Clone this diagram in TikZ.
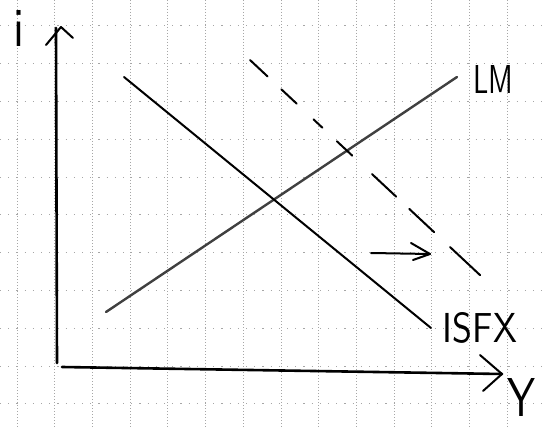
\documentclass[tikz,border=0pt]{standalone}
\usepackage{graphicx}
\begin{document}
\begin{tikzpicture}[x=1pt,y=-1pt,
  vgrid/.style={gray!70,line width=0.7pt,dash pattern=on 1.2pt off 1.8pt},
  hgrid/.style={gray!70,line width=0.7pt,dash pattern=on 1.2pt off 7pt},
  axis/.style={black,line width=2.6pt,line cap=round,line join=round},
  curve/.style={black,line width=2pt,line cap=round},
  pencil/.style={black!75,line width=2.4pt,line cap=round},
  hand/.style={inner sep=0pt,font=\sffamily},
  tip/.style={black,line width=2pt,line cap=round,line join=round}]
\useasboundingbox (0,0) rectangle (544,428);
\fill[white] (0,0) rectangle (544,428);
% grid
\foreach \k in {0,...,13} \draw[vgrid] ({17+37.7*\k},0) -- ({17+37.7*\k},428);
\foreach \k in {0,...,10} \draw[hgrid] (0,{25.7+37.8*\k}) -- (544,{25.7+37.8*\k});
% axes
\coordinate (ytop) at (56,28);
\coordinate (ybot) at (57,363);
\coordinate (xleft) at (62,367);
\coordinate (xright) at (502,374);
\draw[axis] (ybot) -- (ytop);
\draw[tip] (46,45) -- (61,27) -- (73,38);
\draw[axis] (xleft) -- (xright);
\draw[tip] (480,355) -- (502,374) -- (483,391);
% LM
\coordinate (lmA) at (106,312);
\coordinate (lmB) at (457,77);
\draw[pencil] (lmA) -- (lmB);
% IS
\coordinate (isA) at (124,77);
\coordinate (isB) at (431,328);
\draw[curve] (isA) -- (isB);
% shifted IS (dashed)
\coordinate (is2A) at (250,60);
\coordinate (is2B) at (481,276);
\draw[curve,dash pattern=on 24 off 19 on 21 off 23 on 12 off 20 on 21 off 27 on 33 off 18 on 34 off 22 on 41 off 20] (is2A) -- (is2B);
% shift arrow
\coordinate (arA) at (371,253);
\coordinate (arB) at (430,254);
\draw[curve] (arA) -- (arB);
\draw[tip] (411,243) -- (arB) -- (413,260);
% labels
\node[hand] (li) at (19,28) {\resizebox{11pt}{36pt}{i}};
\node[hand] (llm) at (493,79) {\resizebox{40pt}{28pt}{LM}};
\node[hand] (lis) at (480,328) {\resizebox{74pt}{30pt}{ISFX}};
\node[hand] (ly) at (521,397) {\resizebox{28pt}{38pt}{Y}};
\end{tikzpicture}
\end{document}
